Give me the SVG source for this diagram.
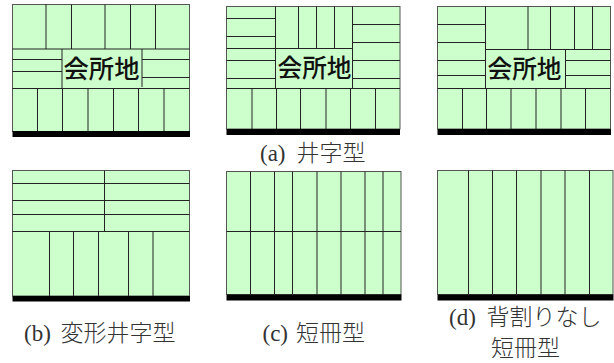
<svg xmlns="http://www.w3.org/2000/svg" width="614" height="363" viewBox="0 0 614 363">
<style>
.plot{fill:#ccffcc;stroke:#555;stroke-width:1}
.bar{fill:#000}
.l{stroke:#222;stroke-width:1;fill:none}
.c{font-family:"Noto Sans CJK JP","Noto Sans",sans-serif;font-size:25px;font-weight:500;fill:#111}
.t{font-family:"Liberation Serif","Noto Sans CJK JP",serif;font-size:23px;font-weight:300;fill:#333}
</style>
<rect width="614" height="363" fill="#fff"/>
<g id="panel-a1">
<rect class="plot" x="12.5" y="4.5" width="177" height="127"/>
<path class="l" d="M46 4.5V49M71.500 4.500V49M105 4.500V49M130.500 4.500V49M155.500 4.500V49M12.500 49H189.500M12.500 59.500H62M12.500 71.500H62M62 49V88.500M142 49V87M142 59.500H189.500M142 77.500H189.500M12.500 88.500H189.500M37.500 88.500V131M62.500 88.500V131M88 88.500V131M113.500 88.500V131M138.500 88.500V131M164 88.500V131"/>
<rect class="bar" x="12.500" y="131" width="177.500" height="6"/>
<text class="c" x="63.500" y="77.500" textLength="76" lengthAdjust="spacingAndGlyphs">会所地</text>
</g>
<g id="panel-a2">
<rect class="plot" x="226.500" y="6.500" width="173.500" height="122.500"/>
<path class="l" d="M275.500 6.500V88.500M226.500 18.500H275.500M226.500 36.500H275.500M226.500 48.500H352.500M226.500 60.500H275.500M226.500 78.500H275.500M226.500 88.500H400M298.500 6.500V48.500M316.500 6.500V48.500M334.500 6.500V48.500M352.500 6.500V88.500M352.500 24.500H400M352.500 42.500H400M352.500 60.500H400M352.500 78.500H400M252 88.500V129M276.500 88.500V129M300.500 88.500V129M326 88.500V129M350.500 88.500V129M375.500 88.500V129"/>
<rect class="bar" x="226.500" y="129" width="173.500" height="6"/>
<text class="c" x="277.500" y="77" textLength="74" lengthAdjust="spacingAndGlyphs">会所地</text>
</g>
<g id="panel-a3">
<rect class="plot" x="437.500" y="6.500" width="173" height="122.500"/>
<path class="l" d="M485.500 6.500V88.500M437.500 24.500H485.500M437.500 42.500H485.500M437.500 60.500H485.500M437.500 75.500H485.500M437.500 88.500H610.500M528 6.500V49.500M550.500 6.500V49.500M574.500 6.500V49.500M592.500 6.500V49.500M485.500 49.500H610.500M565.500 49.500V88.500M565.500 60.500H610.500M565.500 75.500H610.500M462.500 88.500V129M486.500 88.500V129M511 88.500V129M536 88.500V129M561 88.500V129M585.500 88.500V129"/>
<rect class="bar" x="437.500" y="129" width="173.500" height="6"/>
<text class="c" x="487.500" y="78" textLength="74" lengthAdjust="spacingAndGlyphs">会所地</text>
</g>
<text id="label-a" class="t" y="161"><tspan x="260">(a)</tspan><tspan x="296.500">井字型</tspan></text>
<g id="panel-b">
<rect class="plot" x="12.500" y="170.500" width="177" height="125.500"/>
<path class="l" d="M12.500 183.500H189.500M12.500 200.500H189.500M12.500 214.500H189.500M12.500 231.500H189.500M104.500 170.500V231.500M49.500 231.500V296M73.500 231.500V296M98.500 231.500V296M128.500 231.500V296M153 231.500V296"/>
<rect class="bar" x="12.500" y="296" width="177.500" height="5.500"/>
</g>
<text id="label-b" class="t" y="341"><tspan x="24">(b)</tspan><tspan x="60.500">変形井字型</tspan></text>
<g id="panel-c">
<rect class="plot" x="226.500" y="171.500" width="174.500" height="123"/>
<path class="l" d="M226.500 231.500H401M250.500 171.500V294.500M274.500 171.500V294.500M292.500 171.500V294.500M317 171.500V294.500M341 171.500V294.500M365 171.500V294.500M383 171.500V294.500"/>
<rect class="bar" x="226.500" y="294.500" width="175" height="6"/>
</g>
<text id="label-c" class="t" y="341"><tspan x="262.500">(c)</tspan><tspan x="296">短冊型</tspan></text>
<g id="panel-d">
<rect class="plot" x="437.500" y="170.500" width="175.500" height="124"/>
<path class="l" d="M468.500 170.500V294.500M492.500 170.500V294.500M516.500 170.500V294.500M541 170.500V294.500M565 170.500V294.500M589.500 170.500V294.500"/>
<rect class="bar" x="437.500" y="294.500" width="176" height="6"/>
</g>
<text id="label-d" class="t" y="325"><tspan x="449">(d)</tspan><tspan x="486.500">背割りなし</tspan><tspan x="491" y="356">短冊型</tspan></text>
</svg>
